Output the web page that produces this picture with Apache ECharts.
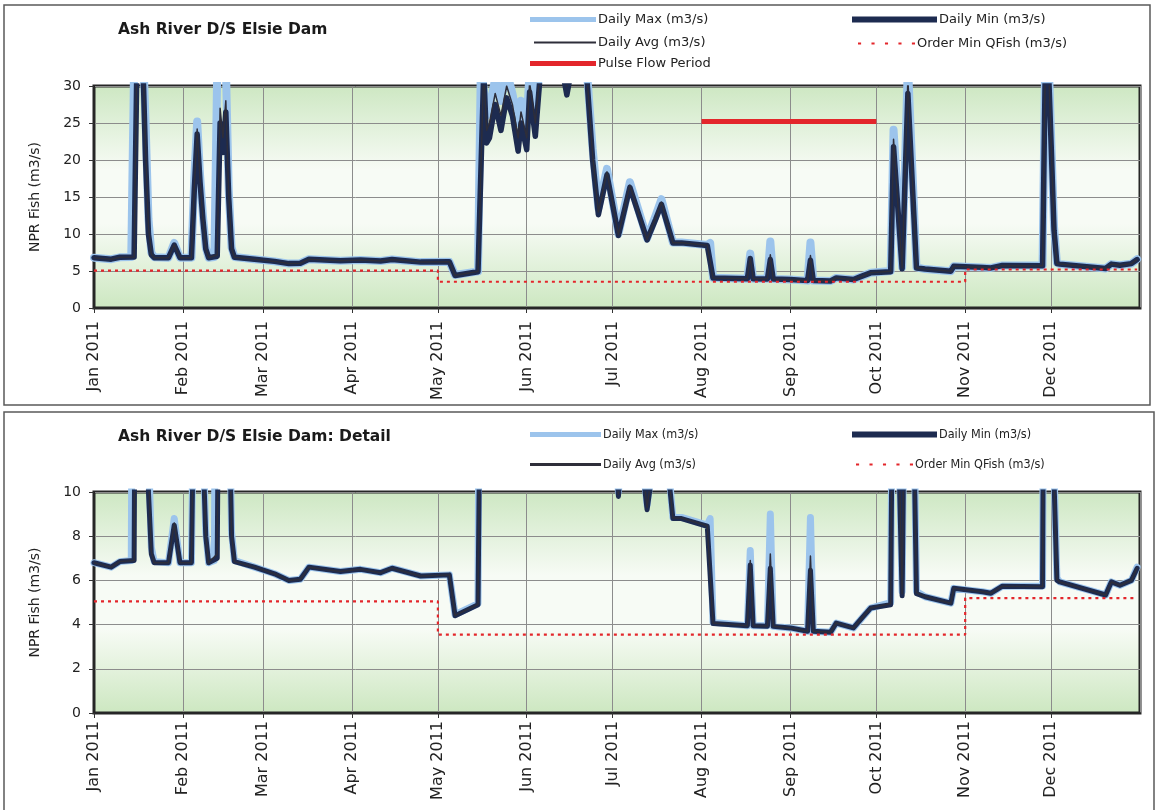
<!DOCTYPE html>
<html>
<head>
<meta charset="utf-8">
<script src="https://cdn.jsdelivr.net/npm/echarts@6/dist/echarts.min.js"></script>
<style>
  html, body { margin: 0; padding: 0; background: #ffffff; }
  #chart { width: 1157px; height: 810px; }
</style>
</head>
<body>
<div id="chart"></div>
<script>
// Ash River downstream of Elsie Dam, 2011 daily flows (m3/s)
const dailyMin = [
  ['2011-01-01', 6.8], ['2011-01-07', 6.6], ['2011-01-10', 6.85], ['2011-01-15', 6.9],
  ['2011-01-16', 34], ['2011-01-18', 34], ['2011-01-19', 20], ['2011-01-20', 10],
  ['2011-01-21', 7.2], ['2011-01-22', 6.8], ['2011-01-27', 6.8], ['2011-01-29', 8.5],
  ['2011-01-31', 6.8], ['2011-02-04', 6.8], ['2011-02-05', 16], ['2011-02-06', 23.5],
  ['2011-02-07', 17], ['2011-02-08', 12], ['2011-02-09', 8], ['2011-02-10', 6.8],
  ['2011-02-13', 7.0], ['2011-02-14', 25], ['2011-02-15', 21], ['2011-02-16', 26.5],
  ['2011-02-17', 15], ['2011-02-18', 8], ['2011-02-19', 6.85], ['2011-02-26', 6.6],
  ['2011-03-05', 6.3], ['2011-03-10', 6.0], ['2011-03-14', 6.05], ['2011-03-17', 6.6],
  ['2011-03-28', 6.4], ['2011-04-04', 6.5], ['2011-04-11', 6.35], ['2011-04-15', 6.55],
  ['2011-04-25', 6.2], ['2011-05-05', 6.25], ['2011-05-07', 4.4], ['2011-05-15', 4.9],
  ['2011-05-17', 32], ['2011-05-18', 22.3], ['2011-05-19', 23], ['2011-05-21', 27.5],
  ['2011-05-23', 24], ['2011-05-25', 28.4], ['2011-05-27', 26], ['2011-05-29', 21.2],
  ['2011-05-30', 25], ['2011-06-01', 21.4], ['2011-06-02', 29.2], ['2011-06-04', 23.2],
  ['2011-06-06', 33], ['2011-06-13', 33], ['2011-06-15', 28.8], ['2011-06-17', 33],
  ['2011-06-22', 31], ['2011-06-24', 20], ['2011-06-26', 12.6], ['2011-06-29', 18],
  ['2011-07-03', 9.8], ['2011-07-07', 16.3], ['2011-07-13', 9.2], ['2011-07-16', 12],
  ['2011-07-18', 14], ['2011-07-22', 8.8], ['2011-07-25', 8.8], ['2011-08-03', 8.45],
  ['2011-08-05', 4.05], ['2011-08-17', 3.95], ['2011-08-18', 6.7], ['2011-08-19', 3.95],
  ['2011-08-24', 3.93], ['2011-08-25', 6.55], ['2011-08-26', 3.92], ['2011-09-01', 3.85],
  ['2011-09-07', 3.7], ['2011-09-08', 6.46], ['2011-09-09', 3.7], ['2011-09-15', 3.65],
  ['2011-09-17', 4.07], ['2011-09-23', 3.85], ['2011-09-26', 4.3], ['2011-09-29', 4.75],
  ['2011-10-06', 4.9], ['2011-10-07', 21.8], ['2011-10-10', 5.3], ['2011-10-12', 29],
  ['2011-10-15', 5.4], ['2011-10-18', 5.26], ['2011-10-27', 4.97], ['2011-10-28', 5.64],
  ['2011-11-07', 5.49], ['2011-11-10', 5.42], ['2011-11-14', 5.74], ['2011-11-28', 5.71],
  ['2011-11-29', 34], ['2011-11-30', 33], ['2011-12-01', 22], ['2011-12-02', 10.5],
  ['2011-12-03', 6.0], ['2011-12-04', 5.93], ['2011-12-20', 5.34], ['2011-12-22', 5.93],
  ['2011-12-25', 5.78], ['2011-12-29', 6.0], ['2011-12-31', 6.55]
];

const dailyMax = [
  ['2011-01-01', 6.8], ['2011-01-07', 6.6], ['2011-01-10', 6.85], ['2011-01-14', 6.9],
  ['2011-01-15', 33], ['2011-01-18', 36], ['2011-01-19', 25], ['2011-01-20', 12],
  ['2011-01-21', 7.5], ['2011-01-22', 6.85], ['2011-01-27', 6.8], ['2011-01-29', 8.8],
  ['2011-01-31', 6.8], ['2011-02-04', 6.8], ['2011-02-05', 17.5], ['2011-02-06', 25.2],
  ['2011-02-07', 18], ['2011-02-08', 12.5], ['2011-02-09', 8.2], ['2011-02-10', 6.8],
  ['2011-02-12', 6.9], ['2011-02-13', 32], ['2011-02-16', 33], ['2011-02-17', 16],
  ['2011-02-18', 8.2], ['2011-02-19', 6.9], ['2011-02-26', 6.6], ['2011-03-05', 6.3],
  ['2011-03-10', 6.0], ['2011-03-14', 6.05], ['2011-03-17', 6.6], ['2011-03-28', 6.4],
  ['2011-04-04', 6.5], ['2011-04-11', 6.35], ['2011-04-15', 6.55], ['2011-04-25', 6.2],
  ['2011-05-05', 6.25], ['2011-05-07', 4.45], ['2011-05-15', 4.95], ['2011-05-16', 33],
  ['2011-05-18', 26], ['2011-05-19', 27], ['2011-05-21', 31], ['2011-05-23', 28],
  ['2011-05-25', 32], ['2011-05-27', 29], ['2011-05-29', 25], ['2011-05-30', 28],
  ['2011-06-01', 25], ['2011-06-02', 32], ['2011-06-04', 27], ['2011-06-06', 34],
  ['2011-06-13', 34], ['2011-06-15', 32], ['2011-06-17', 34], ['2011-06-22', 32],
  ['2011-06-24', 21.5], ['2011-06-26', 13.5], ['2011-06-29', 18.8], ['2011-07-03', 10.0],
  ['2011-07-07', 17], ['2011-07-13', 9.4], ['2011-07-16', 12.5], ['2011-07-18', 14.7],
  ['2011-07-22', 8.85], ['2011-07-25', 8.85], ['2011-08-03', 8.5], ['2011-08-04', 8.8],
  ['2011-08-05', 4.1], ['2011-08-17', 3.95], ['2011-08-18', 7.35], ['2011-08-19', 3.95],
  ['2011-08-24', 3.95], ['2011-08-25', 9.0], ['2011-08-26', 3.92], ['2011-09-01', 3.85],
  ['2011-09-07', 3.7], ['2011-09-08', 8.85], ['2011-09-09', 3.7], ['2011-09-15', 3.65],
  ['2011-09-17', 4.07], ['2011-09-23', 3.85], ['2011-09-26', 4.3], ['2011-09-29', 4.75],
  ['2011-10-06', 5.0], ['2011-10-07', 24.1], ['2011-10-10', 5.5], ['2011-10-12', 33],
  ['2011-10-15', 5.5], ['2011-10-18', 5.26], ['2011-10-27', 4.97], ['2011-10-28', 5.64],
  ['2011-11-07', 5.49], ['2011-11-10', 5.42], ['2011-11-14', 5.74], ['2011-11-28', 5.75],
  ['2011-11-29', 36], ['2011-11-30', 35], ['2011-12-01', 23], ['2011-12-02', 11],
  ['2011-12-03', 6.1], ['2011-12-04', 5.93], ['2011-12-20', 5.34], ['2011-12-22', 5.93],
  ['2011-12-25', 5.78], ['2011-12-29', 6.0], ['2011-12-31', 6.6]
];

const dailyAvg = [
  ['2011-01-01', 6.8], ['2011-01-07', 6.6], ['2011-01-10', 6.85], ['2011-01-15', 6.9],
  ['2011-01-16', 35], ['2011-01-18', 35], ['2011-01-19', 22], ['2011-01-20', 11],
  ['2011-01-21', 7.3], ['2011-01-22', 6.8], ['2011-01-27', 6.8], ['2011-01-29', 8.6],
  ['2011-01-31', 6.8], ['2011-02-04', 6.8], ['2011-02-05', 16.5], ['2011-02-06', 24.2],
  ['2011-02-07', 17.5], ['2011-02-08', 12.2], ['2011-02-09', 8.1], ['2011-02-10', 6.8],
  ['2011-02-13', 7.2], ['2011-02-14', 27], ['2011-02-15', 23], ['2011-02-16', 28],
  ['2011-02-17', 15.5], ['2011-02-18', 8.1], ['2011-02-19', 6.85], ['2011-02-26', 6.6],
  ['2011-03-05', 6.3], ['2011-03-10', 6.0], ['2011-03-14', 6.05], ['2011-03-17', 6.6],
  ['2011-03-28', 6.4], ['2011-04-04', 6.5], ['2011-04-11', 6.35], ['2011-04-15', 6.55],
  ['2011-04-25', 6.2], ['2011-05-05', 6.25], ['2011-05-07', 4.42], ['2011-05-15', 4.92],
  ['2011-05-17', 32.5], ['2011-05-18', 24], ['2011-05-19', 25], ['2011-05-21', 29],
  ['2011-05-23', 26], ['2011-05-25', 30], ['2011-05-27', 27.5], ['2011-05-29', 23],
  ['2011-05-30', 26.5], ['2011-06-01', 23], ['2011-06-02', 30.5], ['2011-06-04', 25],
  ['2011-06-06', 33.5], ['2011-06-13', 33.5], ['2011-06-15', 30], ['2011-06-17', 33.5],
  ['2011-06-22', 31.5], ['2011-06-24', 20.7], ['2011-06-26', 13], ['2011-06-29', 18.4],
  ['2011-07-03', 9.9], ['2011-07-07', 16.6], ['2011-07-13', 9.3], ['2011-07-16', 12.2],
  ['2011-07-18', 14.3], ['2011-07-22', 8.82], ['2011-07-25', 8.82], ['2011-08-03', 8.47],
  ['2011-08-05', 4.07], ['2011-08-17', 3.95], ['2011-08-18', 6.9], ['2011-08-19', 3.95],
  ['2011-08-24', 3.94], ['2011-08-25', 7.2], ['2011-08-26', 3.92], ['2011-09-01', 3.85],
  ['2011-09-07', 3.7], ['2011-09-08', 7.1], ['2011-09-09', 3.7], ['2011-09-15', 3.65],
  ['2011-09-17', 4.07], ['2011-09-23', 3.85], ['2011-09-26', 4.3], ['2011-09-29', 4.75],
  ['2011-10-06', 4.95], ['2011-10-07', 22.8], ['2011-10-10', 5.4], ['2011-10-12', 31],
  ['2011-10-15', 5.45], ['2011-10-18', 5.26], ['2011-10-27', 4.97], ['2011-10-28', 5.64],
  ['2011-11-07', 5.49], ['2011-11-10', 5.42], ['2011-11-14', 5.74], ['2011-11-28', 5.72],
  ['2011-11-29', 35], ['2011-11-30', 34], ['2011-12-01', 22.5], ['2011-12-02', 10.7],
  ['2011-12-03', 6.05], ['2011-12-04', 5.93], ['2011-12-20', 5.34], ['2011-12-22', 5.93],
  ['2011-12-25', 5.78], ['2011-12-29', 6.0], ['2011-12-31', 6.57]
];

// Order minimum fish flow (steps on May 1 and Nov 1)
const orderMinQFish = [
  ['2011-01-01', 5.05], ['2011-05-01', 5.05], ['2011-05-01', 3.55],
  ['2011-11-01', 3.55], ['2011-11-01', 5.2], ['2011-12-31', 5.2]
];

// Pulse flow period marker
const pulseFlowPeriod = [['2011-08-01', 25.2], ['2011-10-01', 25.2]];

const titles = ['Ash River D/S Elsie Dam', 'Ash River D/S Elsie Dam: Detail'];
const yAxisName = 'NPR Fish (m3/s)';
const yRanges = [{ max: 30, interval: 5 }, { max: 10, interval: 2 }];
const xStart = '2011-01-01';
const xEnd = '2012-01-01';

const NAME_MAX = 'Daily Max (m3/s)';
const NAME_MIN = 'Daily Min (m3/s)';
const NAME_AVG = 'Daily Avg (m3/s)';
const NAME_QF = 'Order Min QFish (m3/s)';
const NAME_PULSE = 'Pulse Flow Period';

const C_MAX = '#9cc4ec';
const C_MIN = '#1d2b50';
const C_AVG = '#2e2e3a';
const C_RED = '#e3262b';
const FONT = 'DejaVu Sans';
const FONT_NARROW = 'DejaVu Sans Condensed';

const plotBg = {
  type: 'linear', x: 0, y: 0, x2: 0, y2: 1,
  colorStops: [
    { offset: 0, color: '#cde7c2' },
    { offset: 0.38, color: '#f7fbf5' },
    { offset: 0.62, color: '#f7fbf5' },
    { offset: 1, color: '#cce7c0' }
  ]
};

const grids = [
  { left: 94, top: 86, width: 1046, height: 222 },
  { left: 94, top: 492, width: 1046, height: 221 }
].map(g => Object.assign(g, {
  show: true, backgroundColor: plotBg, borderColor: '#262626', borderWidth: 3, containLabel: false
}));

const labelMargins = [13, 8];
const xAxes = [0, 1].map(i => ({
  type: 'time', gridIndex: i, min: xStart, max: xEnd, splitNumber: 12,
  axisLine: { show: true, lineStyle: { color: '#262626', width: 2 } },
  axisTick: { show: true, length: 5, lineStyle: { color: '#333' } },
  splitLine: { show: true, lineStyle: { color: '#8c8c8c', width: 1 } },
  axisLabel: {
    rotate: 90, formatter: '{MMM} {yyyy}', interval: 0, showMaxLabel: false,
    fontFamily: FONT, fontSize: 16, color: '#222', margin: labelMargins[i]
  }
}));

const yAxes = [0, 1].map(i => ({
  type: 'value', gridIndex: i, min: 0, max: yRanges[i].max, interval: yRanges[i].interval,
  name: yAxisName, nameLocation: 'middle', nameGap: 52,
  nameTextStyle: { fontFamily: FONT, fontSize: 14, color: '#222' },
  axisLine: { show: true, lineStyle: { color: '#262626', width: 2 } },
  axisTick: { show: true, length: 5, lineStyle: { color: '#333' } },
  splitLine: { show: true, lineStyle: { color: '#8c8c8c', width: 1 } },
  axisLabel: { fontFamily: FONT, fontSize: 14, color: '#222', margin: 13 }
}));

function flowSeries(i) {
  const wMax = i === 0 ? 8 : 7;
  const wMin = i === 0 ? 5.5 : 5;
  const base = { type: 'line', xAxisIndex: i, yAxisIndex: i, symbol: 'none', showSymbol: false, animation: false, clip: true };
  const list = [
    Object.assign({}, base, { name: NAME_MAX, data: dailyMax, z: 2,
      lineStyle: { color: C_MAX, width: wMax, join: 'round', cap: 'round' }, itemStyle: { color: C_MAX } }),
    Object.assign({}, base, { name: NAME_MIN, data: dailyMin, z: 3,
      lineStyle: { color: C_MIN, width: wMin, join: 'round', cap: 'round' }, itemStyle: { color: C_MIN } }),
    Object.assign({}, base, { name: NAME_AVG, data: dailyAvg, z: 4,
      lineStyle: { color: C_AVG, width: 1.5, join: 'round' }, itemStyle: { color: C_AVG } }),
    Object.assign({}, base, { name: NAME_QF, data: orderMinQFish, z: 5,
      lineStyle: { color: C_RED, width: 2.2, type: [3, 4] }, itemStyle: { color: C_RED } })
  ];
  if (i === 0) {
    list.push(Object.assign({}, base, { name: NAME_PULSE, data: pulseFlowPeriod, z: 6,
      lineStyle: { color: C_RED, width: 5 }, itemStyle: { color: C_RED } }));
  }
  return list;
}

// legend swatches: solid bars and a row of dots
const BAR = 'path://M0,0h10v1h-10z';
const DOTS = 'path://M0,0h3v1h-3z M13,0h3v1h-3z M26,0h3v1h-3z M39,0h3v1h-3z M52,0h3v1h-3z';

function legendItem(name, left, top, w, h, icon, fontSize, family) {
  return {
    left: left, top: top, itemWidth: w, itemHeight: h, icon: icon, symbolKeepAspect: false,
    selectedMode: false, padding: 0, itemGap: 0,
    textStyle: { fontFamily: family, fontSize: fontSize, color: '#222', padding: [0, 0, 0, -3] },
    data: [name]
  };
}

const option = {
  backgroundColor: '#ffffff',
  animation: false,
  title: [
    { text: titles[0], left: 118, top: 22, padding: 0, textStyle: { fontFamily: FONT, fontWeight: 'bold', fontSize: 15.5, color: '#1a1a1a' } },
    { text: titles[1], left: 118, top: 429, padding: 0, textStyle: { fontFamily: FONT, fontWeight: 'bold', fontSize: 15.5, color: '#1a1a1a' } }
  ],
  legend: [
    legendItem(NAME_MAX, 530, 13, 66, 5, BAR, 13, FONT),
    legendItem(NAME_AVG, 534, 36, 62, 2, BAR, 13, FONT),
    legendItem(NAME_PULSE, 530, 57, 66, 5, BAR, 13, FONT),
    legendItem(NAME_MIN, 852, 13, 85, 6, BAR, 13, FONT),
    legendItem(NAME_QF, 858, 37, 57, 2, DOTS, 13, FONT),
    legendItem(NAME_MAX, 530, 428, 71, 5, BAR, 12.5, FONT_NARROW),
    legendItem(NAME_AVG, 530, 458, 71, 3, BAR, 12.5, FONT_NARROW),
    legendItem(NAME_MIN, 852, 428, 85, 6, BAR, 12.5, FONT_NARROW),
    legendItem(NAME_QF, 856, 458, 57, 2, DOTS, 12.5, FONT_NARROW)
  ],
  grid: grids,
  xAxis: xAxes,
  yAxis: yAxes,
  series: flowSeries(0).concat(flowSeries(1)),
  graphic: [
    { type: 'rect', silent: true, z: -10, shape: { x: 4, y: 5, width: 1146, height: 400 },
      style: { fill: 'none', stroke: '#5a5a5a', lineWidth: 1.5 } },
    { type: 'rect', silent: true, z: -10, shape: { x: 4, y: 412, width: 1150, height: 410 },
      style: { fill: 'none', stroke: '#5a5a5a', lineWidth: 1.5 } }
  ]
};

const chart = echarts.init(document.getElementById('chart'), null, { renderer: 'canvas' });
chart.setOption(option);
</script>
</body>
</html>
